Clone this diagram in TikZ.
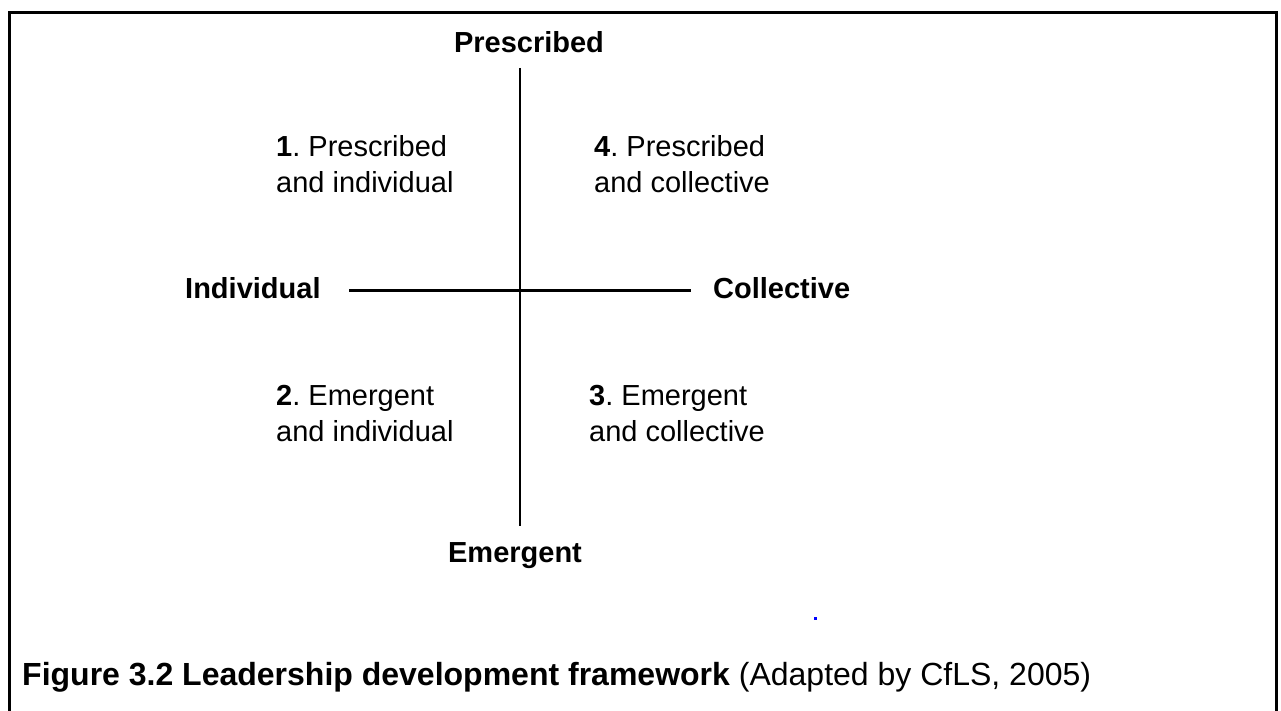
\documentclass[tikz,border=0pt]{standalone}
\usepackage{fontspec}
\setmainfont{Liberation Sans}
\frenchspacing
\begin{document}
\begin{tikzpicture}[x=1pt,y=-1pt,
  lbl/.style={inner sep=0pt, font=\fontsize{29}{36}\selectfont},
  axislbl/.style={inner sep=0pt, font=\fontsize{29}{36}\selectfont\bfseries},
  quad/.style={lbl, anchor=base west},
  axisline/.style={line width=2.6pt},
  frameline/.style={line width=3pt}]
\useasboundingbox (0,0) rectangle (1281,711);
\clip (0,0) rectangle (1281,711);
% frame (open at the bottom)
\coordinate (fbl) at (9.5,715);
\coordinate (ftl) at (9.5,12.5);
\coordinate (ftr) at (1276.5,12.5);
\coordinate (fbr) at (1276.5,715);
\draw[frameline] (fbl) -- (ftl) -- (ftr) -- (fbr);
% axis labels
\node[axislbl, anchor=base] (pre) at (529,53) {Prescribed};
\node[axislbl, anchor=base] (eme) at (515,562) {Emergent};
\node[axislbl, anchor=base west] (ind) at (185,298) {Individual};
\node[axislbl, anchor=base west] (col) at (713,298) {Collective};
% axes
\coordinate (vt) at (520,68);
\coordinate (vb) at (520,526);
\coordinate (hl) at (349,290.7);
\coordinate (hr) at (691,290.7);
\draw[axisline] (vt) -- (vb);
\draw[axisline] (hl) -- (hr);
% quadrant labels
\node[quad] (q1) at (276,157) {\begin{tabular}[t]{@{}l@{}}\textbf{1}. Prescribed\\and individual\end{tabular}};
\node[quad] (q4) at (594,157) {\begin{tabular}[t]{@{}l@{}}\textbf{4}. Prescribed\\and collective\end{tabular}};
\node[quad] (q2) at (276,405) {\begin{tabular}[t]{@{}l@{}}\textbf{2}. Emergent\\and individual\end{tabular}};
\node[quad] (q3) at (589,405) {\begin{tabular}[t]{@{}l@{}}\textbf{3}. Emergent\\and collective\end{tabular}};
% tiny blue mark
\fill[blue] (813.5,617) rectangle (816.5,619.5);
% caption
\node[inner sep=0pt, anchor=base west, font=\fontsize{32}{38}\selectfont] (cap) at (22,685) {\textbf{Figure 3.2 Leadership development framework} (Adapted by CfLS, 2005)};
\end{tikzpicture}
\end{document}
